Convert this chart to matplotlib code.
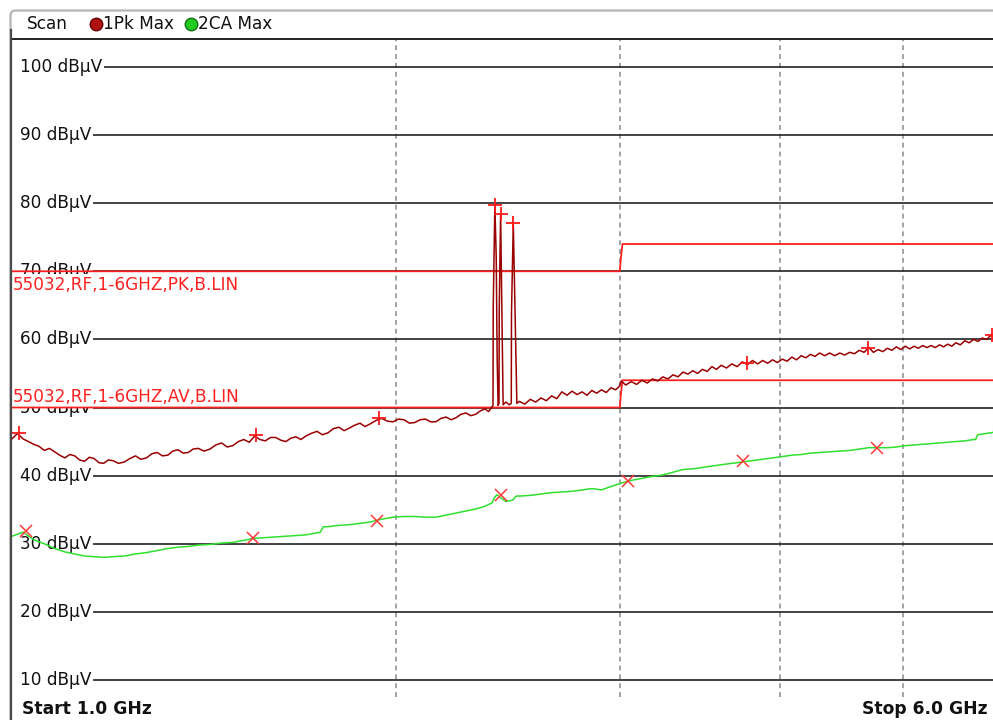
import numpy as np
import matplotlib
matplotlib.use("Agg")
import matplotlib.pyplot as plt
from matplotlib.patches import FancyBboxPatch
from matplotlib.transforms import blended_transform_factory

# ========================================
# Data (frequency in MHz, level in dBuV)
# ========================================

peak_mhz = [1000, 1010, 1020, 1030, 1040, 1050, 1060, 1070, 1080, 1090, 1100, 1110,
            1120, 1130, 1140, 1150, 1160, 1170, 1180, 1190, 1200, 1212, 1225, 1237,
            1250, 1262, 1275, 1287, 1300, 1312, 1325, 1337, 1350, 1362, 1375, 1387,
            1400, 1415, 1430, 1445, 1460, 1475, 1490, 1505, 1520, 1535, 1550, 1565,
            1580, 1595, 1610, 1625, 1640, 1655, 1670, 1685, 1700, 1717, 1735, 1752,
            1770, 1787, 1805, 1822, 1840, 1857, 1875, 1892, 1910, 1930, 1950, 1970,
            1990, 2010, 2030, 2050, 2070, 2090, 2110, 2130, 2150, 2170, 2190, 2210,
            2230, 2250, 2270, 2290, 2310, 2330, 2350, 2365, 2380,
            2384, 2385, 2392, 2398, 2402, 2406, 2410, 2411, 2417, 2422, 2428, 2440,
            2455, 2464, 2465, 2473, 2481, 2489,
            2500, 2525, 2550, 2575, 2600, 2625, 2650, 2675, 2700, 2725,
            2750, 2775, 2800, 2825, 2850, 2875, 2900, 2925, 2950, 2975, 2995, 3005,
            3030, 3060, 3090, 3120, 3150, 3180, 3210, 3240, 3270, 3300, 3330, 3360,
            3390, 3420, 3450, 3480, 3510, 3540, 3570, 3600, 3635, 3670, 3705, 3740,
            3775, 3810, 3845, 3880, 3915, 3950, 3985, 4020, 4055, 4090, 4125, 4160,
            4195, 4230, 4265, 4300, 4340, 4380, 4420, 4460, 4500, 4540, 4580, 4620,
            4660, 4700, 4740, 4780, 4820, 4860, 4900, 4940, 4980, 5020, 5060, 5100,
            5140, 5180, 5220, 5260, 5300, 5340, 5380, 5420, 5460, 5500, 5545, 5590,
            5635, 5680, 5725, 5770, 5815, 5860, 5905, 5950, 6000]
peak_db = [45.4, 46.2, 45.4, 45.0, 44.6, 44.3, 43.7, 44.0, 43.5, 43.0, 42.6, 43.1,
           42.9, 42.3, 42.1, 42.7, 42.5, 41.9, 41.8, 42.3, 42.2, 41.8, 42.0, 42.5,
           42.9, 42.4, 42.6, 43.2, 43.4, 42.9, 43.0, 43.6, 43.8, 43.3, 43.4, 43.9,
           44.0, 43.6, 43.9, 44.5, 44.8, 44.2, 44.4, 45.0, 45.3, 44.9, 45.8, 45.3,
           45.1, 45.6, 45.6, 45.2, 45.0, 45.5, 45.7, 45.3, 45.8, 46.2, 46.5, 46.0,
           46.3, 46.9, 47.1, 46.6, 47.0, 47.4, 47.7, 47.2, 47.6, 48.1, 48.4, 48.0,
           47.9, 48.3, 48.2, 47.7, 47.8, 48.2, 48.3, 47.9, 47.9, 48.4, 48.6, 48.2,
           48.5, 49.0, 49.2, 48.8, 49.0, 49.5, 49.8, 49.4, 50.1,
           50.3, 64.7, 79.7, 72.0, 57.3, 50.3, 50.6, 64.2, 78.4, 65.4, 50.4, 50.8,
           50.4, 50.6, 63.9, 77.1, 64.0, 50.6,
           50.9, 50.5, 51.2, 50.8, 51.4, 51.0, 51.7, 51.3, 52.3, 51.8,
           52.4, 51.9, 52.3, 51.8, 52.5, 52.1, 52.6, 52.2, 52.9, 52.6, 53.1, 53.9,
           53.3, 53.8, 53.4, 54.0, 53.6, 54.2, 53.9, 54.5, 54.2, 54.8, 54.5, 55.2,
           54.9, 55.4, 55.0, 55.6, 55.3, 56.0, 55.6, 56.2, 55.8, 56.4, 56.0, 56.7,
           56.3, 56.9, 56.4, 56.9, 56.5, 57.0, 56.6, 57.1, 56.8, 57.4, 57.0, 57.6,
           57.3, 57.8, 57.5, 58.0, 57.6, 58.0, 57.6, 58.0, 57.7, 58.1, 57.9, 58.4,
           58.1, 58.8, 58.1, 58.5, 58.2, 58.7, 58.4, 58.9, 58.5, 59.0, 58.6, 59.0,
           58.7, 59.1, 58.8, 59.1, 58.8, 59.2, 58.9, 59.3, 59.0, 59.5, 59.2, 59.8,
           59.5, 60.0, 59.7, 60.2, 60.0, 60.6, 60.3, 60.8, 60.9]

avg_mhz = [1000, 1020, 1040, 1060, 1080, 1100, 1120, 1140, 1160, 1180, 1200, 1225,
           1250, 1275, 1300, 1325, 1350, 1375, 1400, 1430, 1460, 1490, 1520, 1550,
           1580, 1610, 1640, 1670, 1700, 1735, 1745, 1755, 1770, 1805, 1840, 1875,
           1910, 1950, 1990, 2030, 2070, 2110, 2150, 2190, 2230, 2270, 2310, 2350,
           2380, 2391, 2401, 2416, 2440, 2470, 2486, 2500, 2550, 2600, 2650, 2700,
           2750, 2800, 2850, 2900, 2950, 2995, 3005, 3060, 3120, 3180, 3240, 3300,
           3360, 3420, 3480, 3540, 3600, 3670, 3740, 3810, 3880, 3950, 4020, 4090,
           4160, 4230, 4300, 4380, 4460, 4540, 4620, 4700, 4780, 4860, 4940, 5020,
           5100, 5180, 5260, 5340, 5420, 5500, 5590, 5680, 5700, 5720, 5770, 5860,
           5950, 6000]
avg_db = [31.1, 31.7, 30.6, 30.0, 29.3, 28.8, 28.5, 28.2, 28.1, 28.0, 28.1, 28.2,
          28.5, 28.7, 29.0, 29.3, 29.5, 29.6, 29.8, 29.9, 30.1, 30.2, 30.5, 30.8,
          30.9, 31.0, 31.1, 31.2, 31.3, 31.6, 31.7, 32.5, 32.5, 32.7, 32.8, 33.0,
          33.2, 33.6, 33.9, 34.0, 34.0, 33.9, 33.9, 34.2, 34.5, 34.8, 35.1, 35.5,
          36.0, 36.8, 37.2, 36.8, 36.2, 36.4, 37.0, 37.0, 37.1, 37.3, 37.5, 37.6,
          37.7, 37.9, 38.1, 37.9, 38.4, 38.8, 38.9, 39.3, 39.6, 39.9, 40.1, 40.5,
          40.9, 41.0, 41.2, 41.4, 41.6, 41.8, 42.0, 42.2, 42.4, 42.6, 42.8, 43.0,
          43.1, 43.3, 43.4, 43.5, 43.6, 43.7, 43.9, 44.1, 44.1, 44.1, 44.2, 44.4,
          44.5, 44.6, 44.7, 44.8, 44.9, 45.0, 45.1, 45.3, 45.3, 46.0, 46.1, 46.3,
          46.5, 46.6]

pk_marker_mhz = [1013, 1554, 1941, 2392, 2417, 2473, 3772, 4693, 5871]
pk_marker_db = [46.3, 46.0, 48.5, 79.7, 78.4, 77.1, 56.6, 58.7, 60.6]
av_marker_mhz = [1025, 1545, 1934, 2417, 3043, 3745, 4770]
av_marker_db = [31.8, 30.9, 33.4, 37.2, 39.2, 42.1, 44.1]

# limit lines
lim_pk_mhz = [1000, 2998, 3003, 3012, 6000]
lim_pk_db = [70, 70, 71.8, 74, 74]
lim_av_mhz = [1000, 2998, 3003, 3012, 6000]
lim_av_db = [50, 50, 51.8, 54, 54]
lim_pk_name = "55032,RF,1-6GHZ,PK,B.LIN"
lim_av_name = "55032,RF,1-6GHZ,AV,B.LIN"

grid_levels = [10, 20, 30, 40, 50, 60, 70, 80, 90, 100]
grid_freqs = [2000, 3000, 4000, 5000]

# ========================================
# Figure
# ========================================

plt.rcParams['font.family'] = ['DejaVu Sans']
W, H = 993, 720
fig = plt.figure(figsize=(W / 100, H / 100), dpi=100)
fig.patch.set_facecolor('white')

# plot area in pixels: x 12..1004 (right edge runs past image), y 39..697
ax = fig.add_axes([12 / W, 1 - 697 / H, (1004 - 12) / W, (697 - 39) / H])
ax.set_xscale('log')
ax.set_xlim(1000, 6000)
ax.set_ylim(7.5, 104.1)
ax.set_xticks([])
ax.set_yticks([])
ax.minorticks_off()
for side in ['left', 'right', 'bottom']:
    ax.spines[side].set_visible(False)
ax.spines['top'].set_color('#111111')
ax.spines['top'].set_linewidth(1.3)

for fq in grid_freqs:
    ax.axvline(fq, color='#8a8a8a', lw=1.1, dashes=(3.2, 2.6), zorder=1)

# level labels sit inside the plot, the grid line starts right after each label
trans = blended_transform_factory(ax.transAxes, ax.transData)
labels = []
for lv in grid_levels:
    t = ax.text(0.0085, lv, f"{lv} dBμV", transform=trans, ha='left', va='center',
                fontsize=12.2, color='#111111', zorder=2)
    labels.append(t)

fig.canvas.draw()
renderer = fig.canvas.get_renderer()
inv = ax.transData.inverted()
for lv, t in zip(grid_levels, labels):
    bb = t.get_window_extent(renderer)
    x0 = inv.transform((bb.x1 + 1, 0))[0]
    ax.hlines(lv, x0, 6000, color='#222222', lw=1.2, zorder=1)

# limit lines + labels
ax.plot(lim_pk_mhz, lim_pk_db, color='#ff2020', lw=1.3, zorder=4)
ax.plot(lim_av_mhz, lim_av_db, color='#ff2020', lw=1.3, zorder=4)
ax.annotate(lim_pk_name, xy=(0.0, 70), xycoords=trans, xytext=(1, -14),
            textcoords='offset pixels', ha='left', va='center', fontsize=12.2,
            color='#ff2020', zorder=3,
            bbox=dict(facecolor='white', edgecolor='none', boxstyle='square,pad=0.12'))
ax.annotate(lim_av_name, xy=(0.0, 50), xycoords=trans, xytext=(1, 10.5),
            textcoords='offset pixels', ha='left', va='center', fontsize=12.2,
            color='#ff2020', zorder=3,
            bbox=dict(facecolor='white', edgecolor='none', boxstyle='square,pad=0.05'))

# traces
ax.plot(peak_mhz, peak_db, color='#9a0000', lw=1.1, zorder=5)
ax.plot(avg_mhz, avg_db, color='#2ee02e', lw=1.1, zorder=5)
ax.plot(pk_marker_mhz, pk_marker_db, ls='none', marker='+', ms=10, mew=1.3,
        color='#ff1a1a', zorder=6)
ax.plot(av_marker_mhz, av_marker_db, ls='none', marker='x', ms=8, mew=1.1,
        color='#ff3a3a', zorder=6)

# ========================================
# Frame, header and footer (pixel coords)
# ========================================

ov = fig.add_axes([0, 0, 1, 1], zorder=10)
ov.set_xlim(0, W)
ov.set_ylim(H, 0)
ov.axis('off')
ov.patch.set_alpha(0)

ov.add_patch(FancyBboxPatch((10.5, 10.5), 1100, 800, boxstyle='round,pad=0,rounding_size=5',
                            fill=False, edgecolor='#b4b4b4', lw=1.6))
ov.plot([11, 11], [30, 720], color='#4a4a4a', lw=1.6)

ov.text(27, 24, "Scan", ha='left', va='center', fontsize=12.2, color='#111111')
ov.plot([96], [24], marker='o', ms=9, mfc='#b01010', mec='#600000', mew=1.0)
ov.text(103, 24, "1Pk Max", ha='left', va='center', fontsize=12.2, color='#111111')
ov.plot([191], [24], marker='o', ms=9, mfc='#22cc22', mec='#107010', mew=1.0)
ov.text(198, 24, "2CA Max", ha='left', va='center', fontsize=12.2, color='#111111')

ov.text(22, 709, "Start 1.0 GHz", ha='left', va='center', fontsize=12.3,
        fontweight='bold', color='#111111')
ov.text(988, 709, "Stop 6.0 GHz", ha='right', va='center', fontsize=12.3,
        fontweight='bold', color='#111111')

fig.savefig("out.png", dpi=100)
